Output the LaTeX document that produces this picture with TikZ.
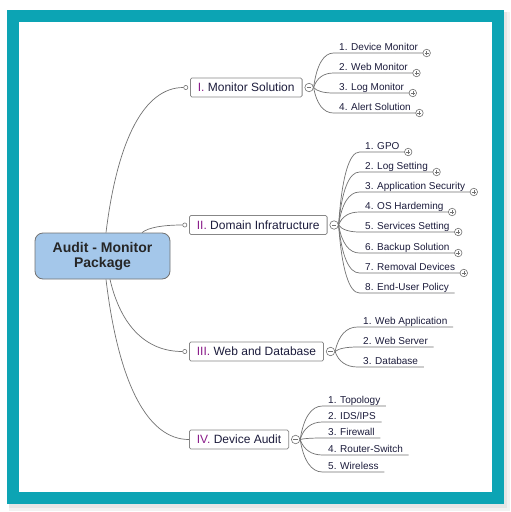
\documentclass[tikz,border=0pt]{standalone}
\usepackage{fontspec}
\setmainfont{Liberation Sans}
\usetikzlibrary{calc,positioning}
\definecolor{frameteal}{HTML}{0CA4B4}
\definecolor{rootblue}{HTML}{A4C7EA}
\definecolor{edge}{HTML}{727272}
\definecolor{ink}{HTML}{1C1C3C}
\definecolor{numeral}{HTML}{8A1C8A}
\tikzset{
  root/.style={draw=edge,fill=rootblue,rounded corners=8pt,line width=.8pt,
    minimum width=135pt,minimum height=46pt,align=center,
    font=\fontsize{14}{15}\selectfont\bfseries,text=black!85},
  topic/.style={draw=edge!85,fill=white,rounded corners=1.5pt,line width=.8pt,
    minimum height=19pt,inner xsep=7.5pt,inner ysep=0pt,text height=8.6pt,
    text depth=0pt,font=\fontsize{12}{14}\selectfont,text=ink,anchor=west},
  leaf/.style={inner xsep=5.5pt,inner ysep=2.5pt,text height=7.2pt,text depth=0pt,
    font=\fontsize{10}{12}\selectfont,text=ink,anchor=south west},
  knob/.style={circle,draw=edge,fill=white,line width=.6pt,inner sep=0pt,minimum size=4.2pt},
  fold/.style={circle,draw=edge,fill=white,line width=.6pt,inner sep=0pt,minimum size=8.5pt,
    path picture={\draw[edge,line width=.6pt]
      ([xshift=-2.2pt]path picture bounding box.center)--([xshift=2.2pt]path picture bounding box.center);}},
  expand/.style={circle,draw=edge,fill=white,line width=.6pt,inner sep=0pt,minimum size=7.5pt,
    path picture={\draw[edge,line width=.6pt]
      ([xshift=-2pt]path picture bounding box.center)--([xshift=2pt]path picture bounding box.center)
      ([yshift=-2pt]path picture bounding box.center)--([yshift=2pt]path picture bounding box.center);}},
  stem/.style={draw=edge,line width=.7pt}
}
% curved branch: steep out of the start, flat into the end
\newcommand\fanpath[2]{let \p1=(#1),\p2=(#2) in (\p1)
  .. controls ({\x1+0.15*(\x2-\x1)},{\y1+0.65*(\y2-\y1)}) and ({\x1+0.5*(\x2-\x1)},\y2) .. (\p2)}
\begin{document}
\begin{tikzpicture}[x=1pt,y=1pt]
\useasboundingbox (0,0) rectangle (511,-512);
\fill[white] (0,0) rectangle (511,-512);
% frame with soft shadow
\fill[black!5] (9,-12) rectangle (510,-511);
\fill[black!10] (9,-12) rectangle (507,-508);
\fill[frameteal] (7,-10) rectangle (504,-504);
\fill[white] (19,-22) rectangle (492,-492);

\node[root] (audit) at (102.5,-256) {Audit - Monitor\\Package};

% I. Monitor Solution
\node[topic] (mon) at (190,-87.5) {{\color{numeral}I.} Monitor Solution};
\node[knob,left=1.8pt of mon] (monin) {};
\node[fold,right=2pt of mon] (monout) {};
\foreach \nm/\y/\t in {mon1/53/1. Device Monitor,mon2/73/2. Web Monitor,
    mon3/93/3. Log Monitor,mon4/113/4. Alert Solution}{
  \node[leaf] (\nm) at (333.5,-\y) {\t};
  \draw[stem] \fanpath{monout.east}{\nm.south west} -- (\nm.south east);
  \node[expand,right=-1pt of \nm.south east] (\nm p) {};
}

% II. Domain Infratructure
\node[topic] (dom) at (189,-225) {{\color{numeral}II.} Domain Infratructure};
\node[knob,left=1.8pt of dom] (domin) {};
\node[fold,right=2pt of dom] (domout) {};
\foreach \nm/\y/\t in {dom1/152/1. GPO,dom2/172/2. Log Setting,dom3/192/3. Application Security,
    dom4/212/4. OS Hardeming,dom5/232/5. Services Setting,dom6/253/6. Backup Solution,
    dom7/273/7. Removal Devices,dom8/293/8. End-User Policy}{
  \node[leaf] (\nm) at (359.5,-\y) {\t};
  \draw[stem] \fanpath{domout.east}{\nm.south west} -- (\nm.south east);
}
\foreach \nm in {dom1,dom2,dom3,dom4,dom5,dom6,dom7}
  \node[expand,right=-1pt of \nm.south east] (\nm p) {};

% III. Web and Database
\node[topic] (web) at (189,-351.5) {{\color{numeral}III.} Web and Database};
\node[knob,left=1.8pt of web] (webin) {};
\node[fold,right=2pt of web] (webout) {};
\foreach \nm/\y/\t in {web1/327/1. Web Application,web2/347/2. Web Server,web3/367/3. Database}{
  \node[leaf] (\nm) at (357.5,-\y) {\t};
  \draw[stem] \fanpath{webout.east}{\nm.south west} -- (\nm.south east);
}

% IV. Device Audit
\node[topic] (dev) at (189,-439.5) {{\color{numeral}IV.} Device Audit};
\node[fold,right=2pt of dev] (devout) {};
\foreach \nm/\y/\t in {dev1/406/1. Topology,dev2/422/{2. IDS/IPS},dev3/438/3. Firewall,
    dev4/455/4. Router-Switch,dev5/472/5. Wireless}{
  \node[leaf] (\nm) at (322.5,-\y) {\t};
  \draw[stem] \fanpath{devout.east}{\nm.south west} -- (\nm.south east);
}

% root connectors
\draw[stem] \fanpath{[xshift=3.5pt]audit.north}{monin.west};
\draw[stem] \fanpath{[xshift=39.5pt]audit.north}{domin.west};
\draw[stem] \fanpath{[xshift=7.5pt]audit.south}{webin.west};
\draw[stem] \fanpath{[xshift=3.5pt]audit.south}{dev.west};
\end{tikzpicture}
\end{document}
